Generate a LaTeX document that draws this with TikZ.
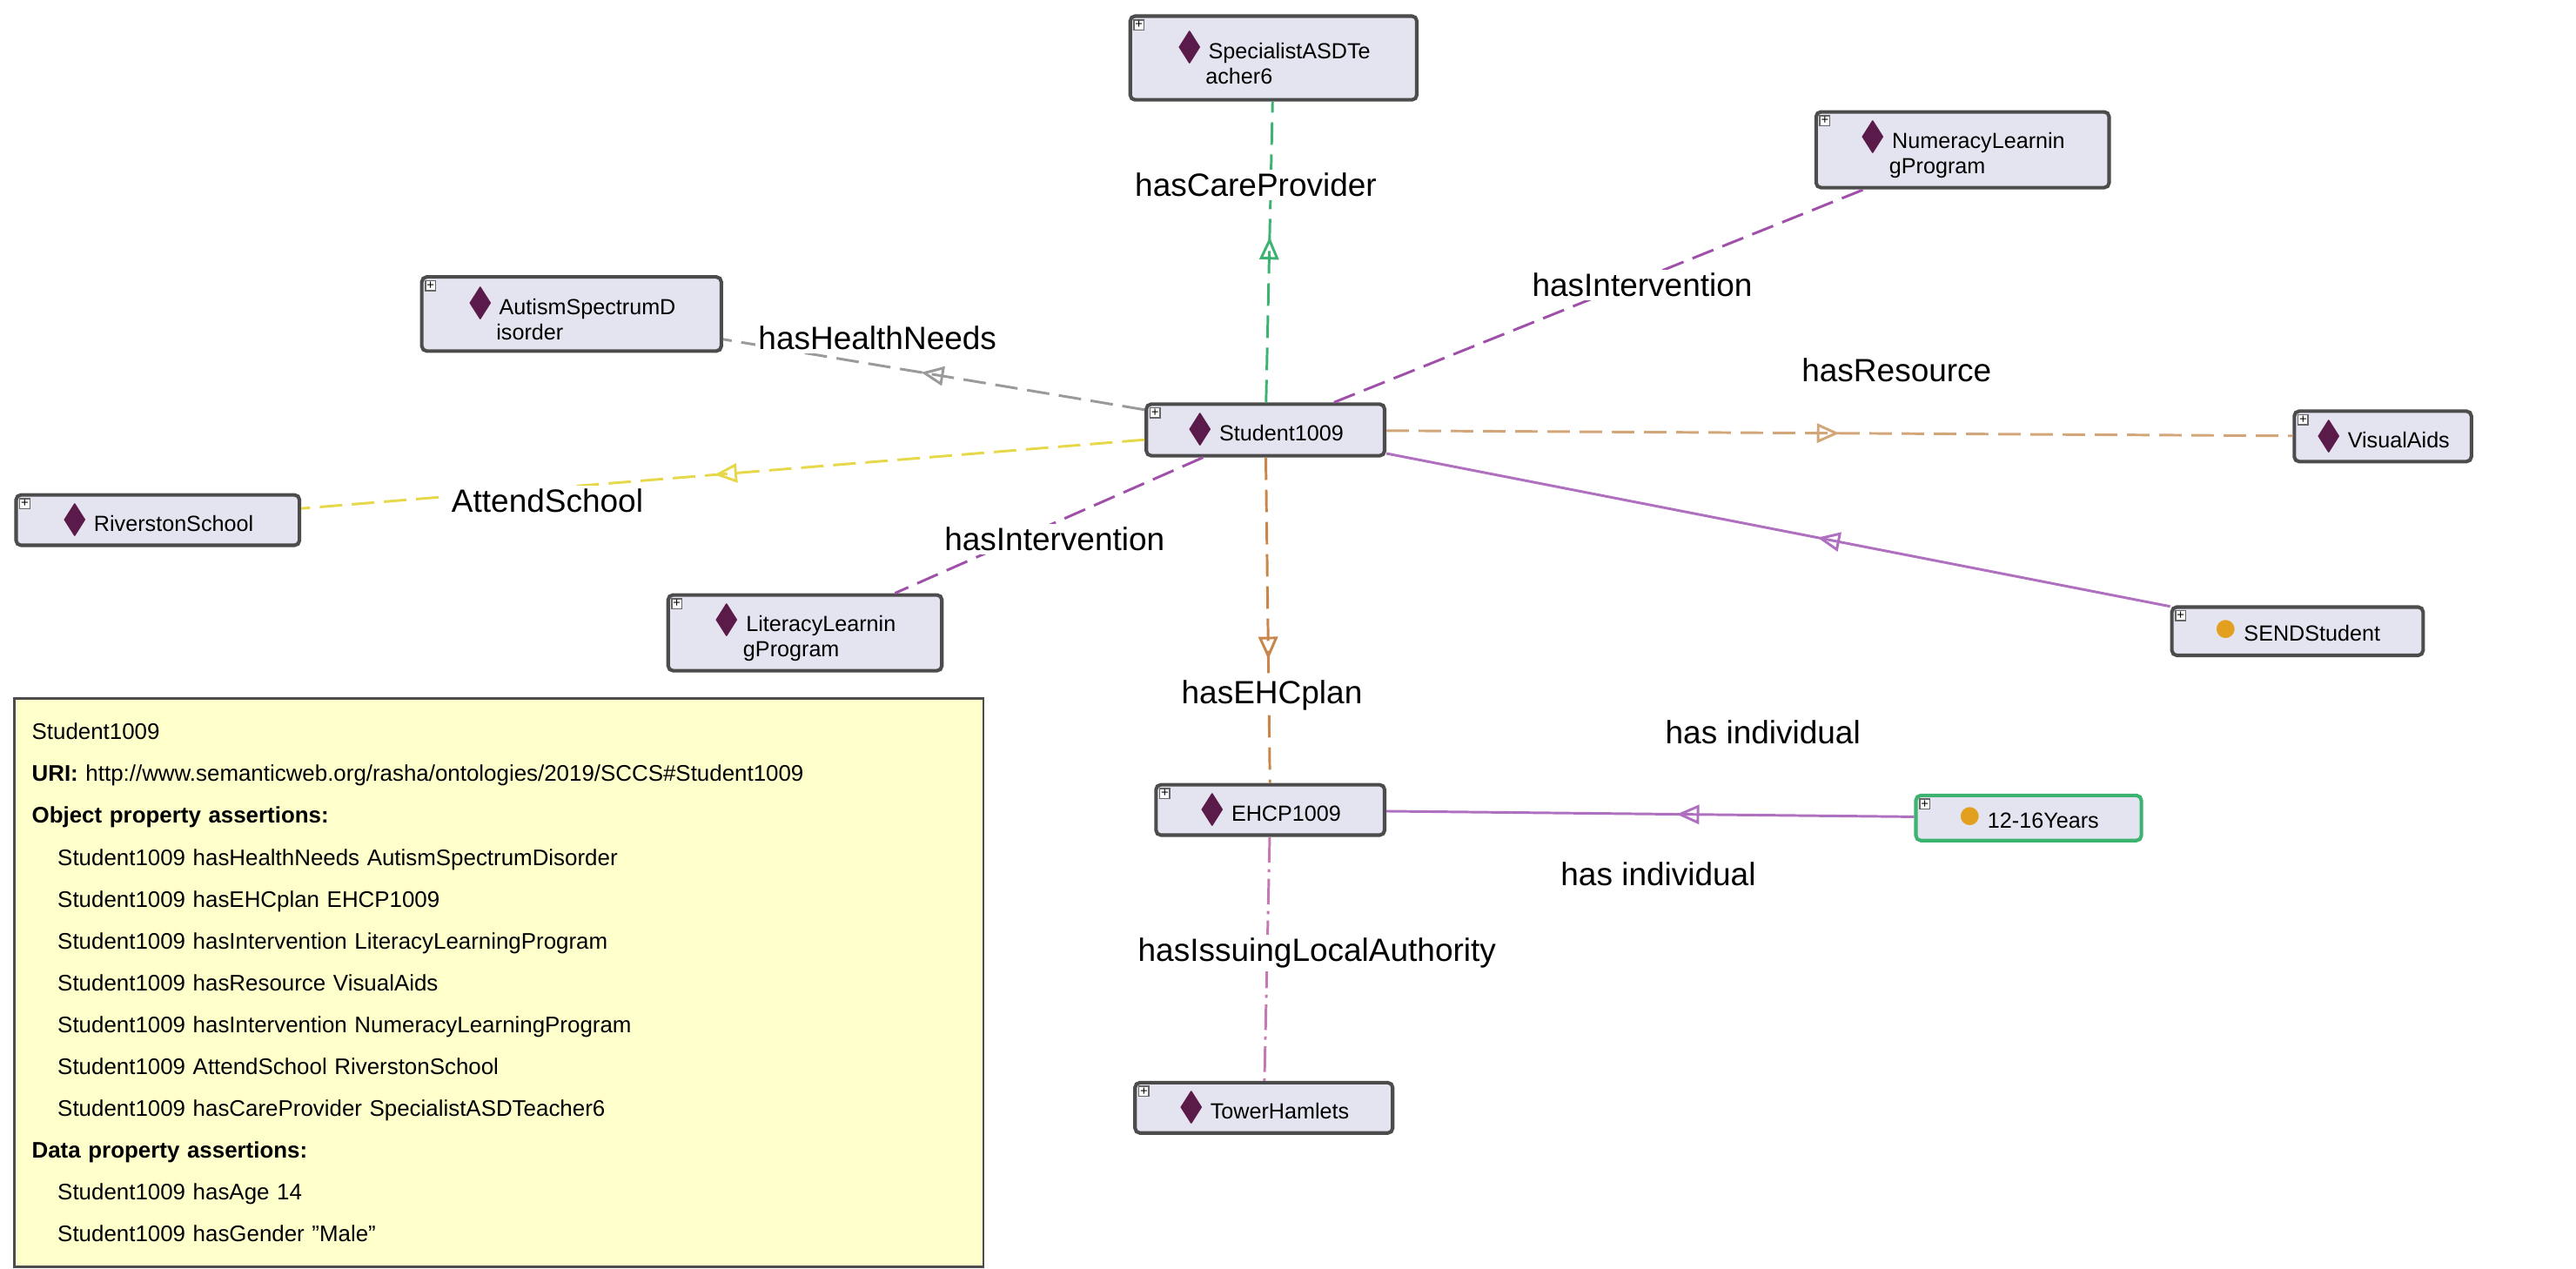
\documentclass[tikz,border=0pt]{standalone}
\usepackage{fontspec}
\usepackage{amssymb}
\setmainfont{Liberation Sans}
\usetikzlibrary{arrows.meta,decorations.markings}
\definecolor{indiv}{HTML}{5A1A4A}
\definecolor{nodefill}{HTML}{E4E4F0}
\definecolor{cgreen}{HTML}{3CB371}
\definecolor{cpurple}{HTML}{A050A8}
\definecolor{cgray}{HTML}{9A9A9A}
\definecolor{ctan}{HTML}{D2A679}
\definecolor{cyellow}{HTML}{E6D84A}
\definecolor{cbrown}{HTML}{C8864A}
\definecolor{cpink}{HTML}{C47AB0}
\definecolor{csolid}{HTML}{B070C0}
\definecolor{cclass}{HTML}{E3A020}
\definecolor{boxfill}{HTML}{FFFFCC}
\begin{document}
\begin{tikzpicture}[x=0.5pt,y=-0.5pt,
  ind/.style={draw=black!70,line width=1.1pt,fill=nodefill,rounded corners=1.5pt,
    font=\fontsize{6.8}{7.8}\selectfont,align=left,inner xsep=5pt,inner ysep=3pt,
    label={[anchor=north west,draw=black!60,fill=white,inner sep=0.4pt,font=\fontsize{4}{4}\selectfont,xshift=1.5pt,yshift=-1.5pt]north west:+}},
  lbl/.style={fill=white,inner sep=1pt,font=\fontsize{10}{12}\selectfont},
  mid/.style={postaction={decorate,decoration={markings,mark=at position #1 with {\arrow{Triangle[open,length=7pt,width=6pt]}}}}},
  dsh/.style={dash pattern=on 7pt off 3pt,line width=0.8pt}]
\useasboundingbox (0,0) rectangle (1600,788);
\newcommand{\dm}{\textcolor{indiv}{\large$\blacklozenge$}\ }
\newcommand{\cl}{\textcolor{cclass}{\Large$\bullet$}\ }
% nodes
\node[ind,minimum width=89pt,minimum height=26pt] (spec) at (791,36) {\dm SpecialistASDTe\\ \hspace*{9pt}acher6};
\node[ind,minimum width=91pt,minimum height=23pt] (num) at (1219,93) {\dm NumeracyLearnin\\ \hspace*{9pt}gProgram};
\node[ind,minimum width=93pt,minimum height=23pt] (aut) at (355,195) {\dm AutismSpectrumD\\ \hspace*{9pt}isorder};
\node[ind,minimum width=74pt,minimum height=16pt] (stu) at (786,267) {\dm Student1009};
\node[ind,minimum width=55pt,minimum height=14pt] (vis) at (1480,271) {\dm VisualAids};
\node[ind,minimum width=88pt,minimum height=14pt] (riv) at (98,323) {\dm RiverstonSchool};
\node[ind,minimum width=85pt,minimum height=23pt] (lit) at (500,393) {\dm LiteracyLearnin\\ \hspace*{9pt}gProgram};
\node[ind,minimum width=78pt,minimum height=15pt] (send) at (1427,392) {\cl SENDStudent};
\node[ind,minimum width=71pt,minimum height=15pt] (ehcp) at (789,503) {\dm EHCP1009};
\node[ind,draw=cgreen,minimum width=70pt,minimum height=14pt] (age) at (1260,508) {\cl 12-16Years};
\node[ind,minimum width=80pt,minimum height=15pt] (tow) at (785,688) {\dm TowerHamlets};
% edges
\draw[cgreen,dsh,mid=0.55] (stu) -- (spec);
\draw[cpurple,dsh] (stu) -- (num);
\draw[cgray,dsh,mid=0.53] (stu) -- (aut);
\draw[ctan,dsh,mid=0.5] (stu) -- (vis);
\draw[cyellow,dsh,mid=0.51] (stu) -- (riv);
\draw[cpurple,dsh] (stu) -- (lit);
\draw[csolid,line width=0.8pt,mid=0.45] (send) -- (stu);
\draw[cbrown,dsh,mid=0.62] (stu) -- (ehcp);
\draw[csolid,line width=0.8pt,mid=0.45] (age) -- (ehcp);
\draw[cpink,line width=0.8pt,dash pattern=on 8pt off 2pt on 1pt off 2pt] (ehcp) -- (tow);
% labels
\node[lbl] (l1) at (780,115) {hasCareProvider};
\node[lbl] (l2) at (1020,177) {hasIntervention};
\node[lbl] (l3) at (545,210) {hasHealthNeeds};
\node[lbl] (l4) at (1178,230) {hasResource};
\node[lbl] (l5) at (340,311) {AttendSchool};
\node[lbl] (l6) at (655,335) {hasIntervention};
\node[lbl] (l7) at (1095,455) {has individual};
\node[lbl] (l8) at (790,432) {hasEHCplan};
\node[lbl] (l9) at (1030,543) {has individual};
\node[lbl] (l10) at (818,592) {hasIssuingLocalAuthority};
% info box
\node[draw=black!70,line width=0.8pt,fill=boxfill,anchor=north west,minimum width=301pt,minimum height=176.5pt,
  text width=290pt,align=left,inner xsep=5pt,inner ysep=4pt,font=\fontsize{7}{13}\selectfont] (info) at (8,433) {%
Student1009\\
\textbf{URI:} http://www.semanticweb.org/rasha/ontologies/2019/SCCS\#Student1009\\
\textbf{Object property assertions:}\\
\hspace*{8pt}Student1009 hasHealthNeeds AutismSpectrumDisorder\\
\hspace*{8pt}Student1009 hasEHCplan EHCP1009\\
\hspace*{8pt}Student1009 hasIntervention LiteracyLearningProgram\\
\hspace*{8pt}Student1009 hasResource VisualAids\\
\hspace*{8pt}Student1009 hasIntervention NumeracyLearningProgram\\
\hspace*{8pt}Student1009 AttendSchool RiverstonSchool\\
\hspace*{8pt}Student1009 hasCareProvider SpecialistASDTeacher6\\
\textbf{Data property assertions:}\\
\hspace*{8pt}Student1009 hasAge 14\\
\hspace*{8pt}Student1009 hasGender "Male"};
\end{tikzpicture}
\end{document}
